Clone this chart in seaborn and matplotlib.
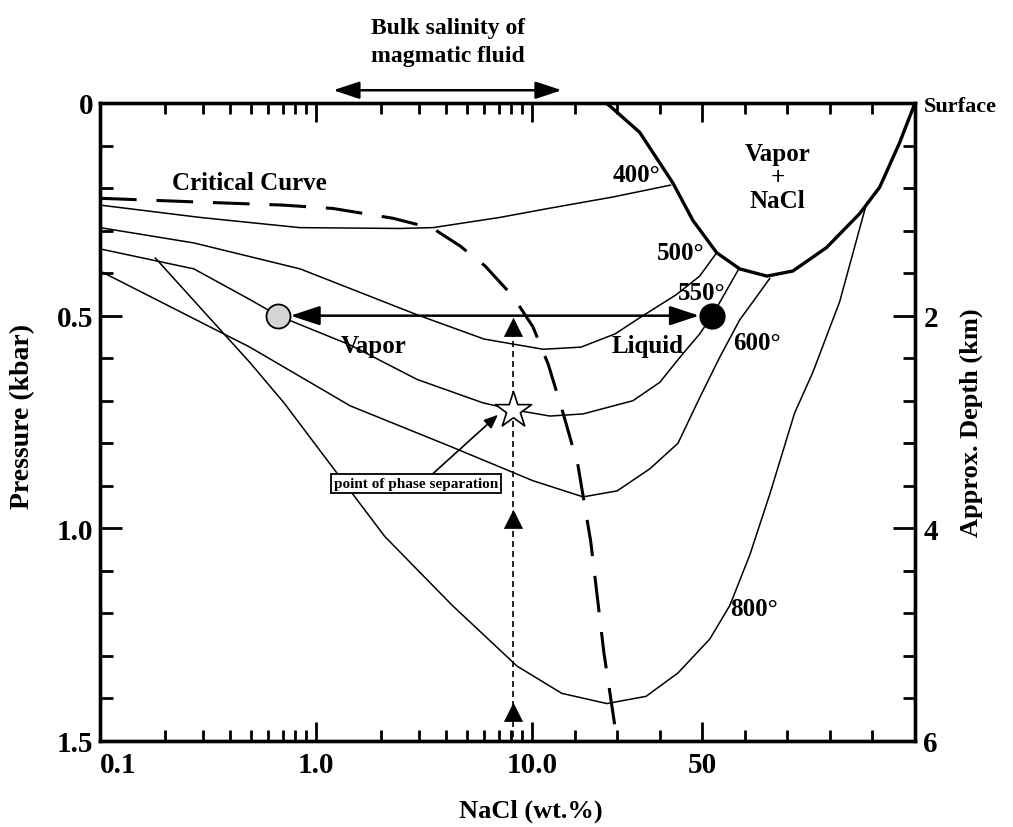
import numpy as np
import matplotlib
matplotlib.use("Agg")
import matplotlib.pyplot as plt
import seaborn as sns
from matplotlib.ticker import FixedLocator, NullFormatter

# ---------------- data (NaCl wt.% , pressure kbar) ----------------
halite_x = [27.4, 28.3, 35.3, 43.1, 47.8, 53.4, 58.8, 65.2, 71.3, 79.2, 87.0, 91.7, 96.4, 100.0]
halite_p = [0.0, 0.007, 0.069, 0.188, 0.276, 0.352, 0.390, 0.407, 0.395, 0.340, 0.260, 0.198, 0.093, 0.0]

crit_x = [0.1, 0.29, 0.70, 1.2, 2.27, 3.48, 4.64, 6.06, 8.17, 10.2, 13.8, 17.3, 20.8, 23.8, 26.9, 30.0]
crit_p = [0.224, 0.233, 0.240, 0.248, 0.271, 0.295, 0.336, 0.383, 0.455, 0.526, 0.614, 0.729, 0.852, 1.031, 1.293, 1.50]

t400_x = [0.1, 0.29, 0.84, 2.45, 3.48, 7.1, 13.8, 29.0, 42.6]
t400_p = [0.240, 0.269, 0.293, 0.295, 0.293, 0.269, 0.248, 0.221, 0.193]

t500_x = [0.1, 0.272, 0.844, 2.94, 6.0, 12.6, 21.5, 29.5, 35.3, 44.0, 49.4, 53.4]
t500_p = [0.293, 0.329, 0.390, 0.498, 0.555, 0.579, 0.574, 0.543, 0.505, 0.450, 0.407, 0.352]

t550_x = [0.1, 0.272, 0.494, 0.667, 1.44, 2.94, 5.93, 8.17, 14.2, 22.0, 33.7, 40.0, 45.4, 49.4, 52.2, 55.3, 58.6]
t550_p = [0.343, 0.390, 0.462, 0.500, 0.569, 0.650, 0.705, 0.721, 0.736, 0.731, 0.700, 0.657, 0.590, 0.543, 0.502, 0.448, 0.390]

t600_x = [0.1, 0.494, 1.44, 4.17, 10.2, 22.0, 30.0, 37.7, 44.3, 49.4, 54.1, 58.8, 62.3, 65.9]
t600_p = [0.395, 0.574, 0.712, 0.807, 0.888, 0.926, 0.912, 0.860, 0.800, 0.693, 0.598, 0.510, 0.462, 0.412]

t800_x = [0.18, 0.494, 0.711, 2.08, 4.27, 8.53, 17.0, 27.6, 36.8, 44.3, 51.8, 56.5, 61.2, 65.9, 71.7, 76.0, 82.3, 88.5]
t800_p = [0.364, 0.610, 0.705, 1.019, 1.181, 1.324, 1.388, 1.412, 1.395, 1.340, 1.260, 1.181, 1.062, 0.919, 0.729, 0.633, 0.467, 0.240]

vapor_pt = (0.667, 0.5)
liquid_pt = (52.2, 0.5)
star_pt = (8.2, 0.721)
bulk_x = 8.2
tri_p = [0.526, 0.979, 1.431]
bulk_line_p = [0.535, 1.5]
bulk_range = (1.2, 17.0)

text_labels = [
    ("Critical Curve", 0.494, 0.188),
    ("400°", 34.5, 0.169),
    ("500°", 45.0, 0.352),
    ("550°", 49.9, 0.445),
    ("600°", 62.8, 0.562),
    ("800°", 62.1, 1.188),
    ("Vapor", 1.84, 0.569),
    ("Liquid", 37.2, 0.569),
    ("Vapor\n+\nNaCl", 67.7, 0.174),
]

x_major = [0.1, 1.0, 10.0, 50.0]
x_major_labels = ["0.1", "1.0", "10.0", "50"]
x_minor = [m * d for d in (0.1, 1.0) for m in range(2, 10)] + [20, 30, 40, 60, 70, 80, 90]
p_major = [0.0, 0.5, 1.0, 1.5]
p_major_labels = ["0", "0.5", "1.0", "1.5"]
depth_labels = ["Surface", "2", "4", "6"]
p_minor = [round(0.1 * i, 1) for i in range(1, 15) if i % 5 != 0]

# ---------------- scale: log up to 10, linear 10-100 ----------------
LIN = 1.773

def fwd(x):
    x = np.asarray(x, dtype=float)
    with np.errstate(divide="ignore", invalid="ignore"):
        lg = np.log10(np.where(x > 0, x, 1e-300))
    return np.where(x <= 10, lg, 1 + LIN * (x - 10) / 90.0)

def inv(y):
    y = np.asarray(y, dtype=float)
    return np.where(y <= 1, np.power(10.0, np.clip(y, -300, 1)), 10 + (y - 1) * 90.0 / LIN)

# ---------------- style ----------------
sns.set_theme(style="ticks", rc={
    "axes.edgecolor": "black", "xtick.color": "black", "ytick.color": "black",
    "text.color": "black", "axes.labelcolor": "black",
})
plt.rcParams["font.family"] = ["Liberation Serif", "DejaVu Serif"]
plt.rcParams["font.weight"] = "bold"
plt.rcParams["axes.labelweight"] = "bold"

fig = plt.figure(figsize=(10.13, 8.28), dpi=100)
ax = fig.add_axes([100 / 1013, 86 / 828, 815 / 1013, 638 / 828])
ax.set_xscale("function", functions=(fwd, inv))

thin = 1.1

def curve(xs, ps, lw=thin):
    sns.lineplot(x=xs, y=ps, ax=ax, sort=False, estimator=None, color="black",
                 linewidth=lw, legend=False)
    return ax.lines[-1]

for xs, ps in [(t400_x, t400_p), (t500_x, t500_p), (t550_x, t550_p),
               (t600_x, t600_p), (t800_x, t800_p)]:
    curve(xs, ps)

curve(halite_x, halite_p, lw=2.4)
crit_line = curve(crit_x, crit_p, lw=2.2)
crit_line.set_dashes([12, 6.5])
crit_line.set_dash_capstyle("butt")

vline = curve([bulk_x, bulk_x], bulk_line_p, lw=1.2)
vline.set_dashes([3.6, 2.4])

# phase-separation arrow at 0.5 kbar
ax.annotate("", xy=liquid_pt, xytext=vapor_pt,
            arrowprops=dict(arrowstyle="<|-|>,head_length=1.0,head_width=0.33",
                            mutation_scale=18, lw=1.8, color="black",
                            shrinkA=9, shrinkB=9), zorder=4)

# markers
sns.scatterplot(x=[vapor_pt[0]], y=[vapor_pt[1]], ax=ax, marker="o", s=300,
                color="#d4d4d4", edgecolor="black", linewidth=1.3, zorder=6, legend=False)
sns.scatterplot(x=[liquid_pt[0]], y=[liquid_pt[1]], ax=ax, marker="o", s=320,
                color="black", edgecolor="black", linewidth=1.0, zorder=6, legend=False)
sns.scatterplot(x=[bulk_x] * len(tri_p), y=tri_p, ax=ax, marker="^", s=170,
                color="black", edgecolor="black", linewidth=0.5, zorder=6, legend=False)
sns.scatterplot(x=[star_pt[0]], y=[star_pt[1]], ax=ax, marker="*", s=750,
                color="white", edgecolor="black", linewidth=1.2, zorder=7, legend=False)

# point of phase separation box
ax.annotate("point of phase separation", xy=(6.96, 0.733), xytext=(2.9, 0.895),
            fontsize=11, ha="center", va="center",
            bbox=dict(boxstyle="square,pad=0.2", fc="white", ec="black", lw=1.3),
            arrowprops=dict(arrowstyle="-|>,head_length=0.6,head_width=0.25",
                            mutation_scale=14, lw=1.2, color="black",
                            shrinkA=0, shrinkB=0, relpos=(0.58, 1.0)), zorder=8)

# in-plot labels
for txt, x, p in text_labels:
    ax.text(x, p, txt, fontsize=18, ha="center", va="center",
            linespacing=1.05, zorder=9)

# bulk salinity annotation above the frame
ax.annotate("", xy=(bulk_range[1], -0.03), xytext=(bulk_range[0], -0.03),
            arrowprops=dict(arrowstyle="<|-|>,head_length=1.0,head_width=0.33",
                            mutation_scale=16, lw=1.8, color="black",
                            shrinkA=0, shrinkB=0), annotation_clip=False)
ax.text(4.1, -0.145, "Bulk salinity of\nmagmatic fluid", fontsize=17,
        ha="center", va="center", linespacing=1.4, clip_on=False)

# axes limits / ticks
ax.set_xlim(0.1, 100)
ax.set_ylim(1.5, 0)
ax.xaxis.set_major_locator(FixedLocator(x_major))
ax.xaxis.set_minor_locator(FixedLocator(x_minor))
ax.set_xticks(x_major, labels=x_major_labels)
ax.xaxis.set_minor_formatter(NullFormatter())
ax.set_yticks(p_major, labels=p_major_labels)
ax.yaxis.set_minor_locator(FixedLocator(p_minor))
ax.yaxis.set_minor_formatter(NullFormatter())

ax.tick_params(axis="x", which="both", direction="in", top=True, bottom=True, width=2.0)
ax.tick_params(axis="x", which="major", length=14, labelsize=21, pad=7)
ax.tick_params(axis="x", which="minor", length=8)
ax.tick_params(axis="y", which="both", direction="in", left=True, width=2.0)
ax.tick_params(axis="y", which="major", length=16, labelsize=21, pad=5)
ax.tick_params(axis="y", which="minor", length=9)
ax.get_xticklabels()[0].set_horizontalalignment("left")

ax2 = ax.twinx()
ax2.set_ylim(1.5, 0)
ax2.set_yticks(p_major, labels=depth_labels)
ax2.yaxis.set_minor_locator(FixedLocator(p_minor))
ax2.yaxis.set_minor_formatter(NullFormatter())
ax2.tick_params(axis="y", which="both", direction="in", right=True, width=2.0)
ax2.tick_params(axis="y", which="major", length=16, labelsize=21, pad=6)
ax2.tick_params(axis="y", which="minor", length=9)
for lbl in ax2.get_yticklabels():
    if lbl.get_text() == "Surface":
        lbl.set_fontsize(16)

for a in (ax, ax2):
    for sp in a.spines.values():
        sp.set_linewidth(2.4)
        sp.set_color("black")

ax.set_xlabel("NaCl (wt.%)", fontsize=19, va="center", ha="center")
ax.xaxis.set_label_coords(0.529, -0.108)
ax.set_ylabel("Pressure (kbar)", fontsize=20, va="center", ha="center")
ax.yaxis.set_label_coords(-0.095, 0.51)
ax2.set_ylabel("Approx. Depth (km)", fontsize=19, va="center", ha="center", rotation=90)
ax2.yaxis.set_label_coords(1.069, 0.5)

fig.savefig("out.png", dpi=100)
